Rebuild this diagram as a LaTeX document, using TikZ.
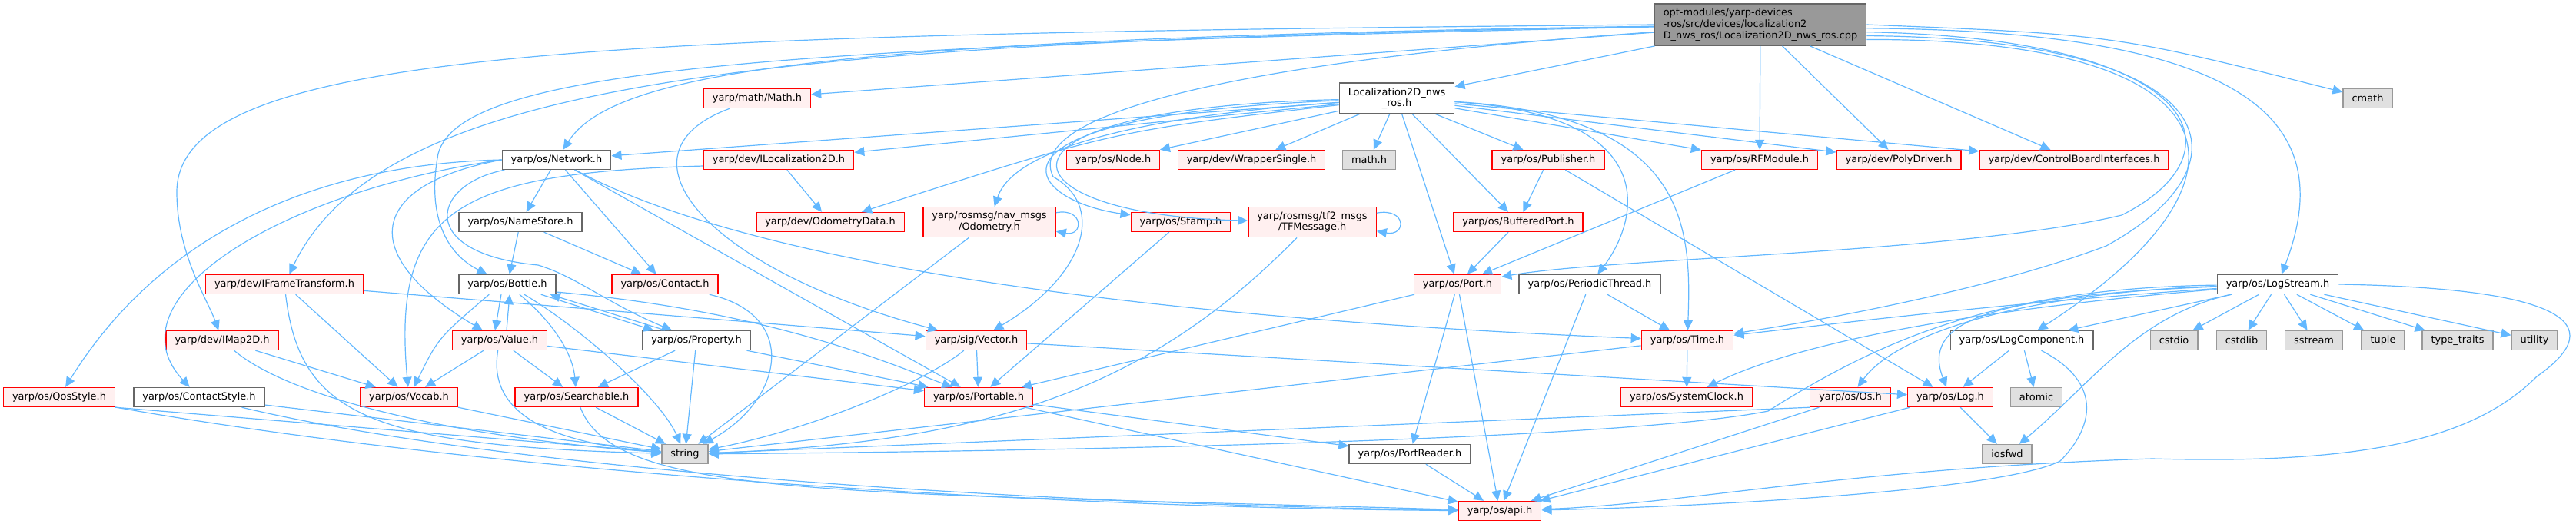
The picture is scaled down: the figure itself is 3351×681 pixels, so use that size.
\documentclass[tikz,border=0pt]{standalone}
\usepackage{fontspec}
\usepackage{tikz}
\usepackage{xcolor}
\usetikzlibrary{arrows.meta}
\newfontfamily\graphfont{DejaVu Sans}
\definecolor{edgeblue}{HTML}{63B8FF}
\definecolor{docline}{HTML}{FF0000}
\definecolor{docfill}{HTML}{FFF0F0}
\definecolor{sysline}{HTML}{999999}
\definecolor{sysfill}{HTML}{E0E0E0}
\definecolor{plainline}{HTML}{666666}
\definecolor{rootfill}{HTML}{999999}

\begin{document}
\begin{tikzpicture}[x=0.01cm, y=-0.01cm,
        >={Triangle[length=0.13cm, width=0.12cm]},
        hfile/.style={draw, rectangle, line width=0.4pt, align=center,
            font=\graphfont\fontsize{3.67}{4.2}\selectfont,
            inner xsep=0.115cm, inner ysep=0.06cm, minimum height=0.25cm},
        docf/.style={hfile, draw=docline, fill=docfill},
        sysf/.style={hfile, draw=sysline, fill=sysfill},
        plainf/.style={hfile, draw=plainline, fill=white},
        rootf/.style={hfile, draw=plainline, fill=rootfill, align=left},
        dep/.style={->, draw=edgeblue, line width=0.34pt}]
        \useasboundingbox (0,0) rectangle (3351,681);

        \node (cpp) at (2290,32) [rootf] {opt-modules/yarp-devices\\-ros/src/devices/localization2\\D\_nws\_ros/Localization2D\_nws\_ros.cpp};
        \node (nws) at (1817,128) [plainf] {Localization2D\_nws\\\_ros.h};
        \node (mathm) at (985,128) [docf] {yarp/math/Math.h};
        \node (cmath) at (3080,128) [sysf] {cmath};
        \node (net) at (724,208) [plainf] {yarp/os/Network.h};
        \node (iloc) at (1013,208) [docf] {yarp/dev/ILocalization2D.h};
        \node (nodeh) at (1448,208) [docf] {yarp/os/Node.h};
        \node (wrap) at (1628,208) [docf] {yarp/dev/WrapperSingle.h};
        \node (mathh) at (1781,208) [sysf] {math.h};
        \node (pub) at (2014,208) [docf] {yarp/os/Publisher.h};
        \node (rfm) at (2289,208) [docf] {yarp/os/RFModule.h};
        \node (poly) at (2470,208) [docf] {yarp/dev/PolyDriver.h};
        \node (cbi) at (2698,208) [docf] {yarp/dev/ControlBoardInterfaces.h};
        \node (names) at (677,289) [plainf] {yarp/os/NameStore.h};
        \node (odata) at (1080,289) [docf] {yarp/dev/OdometryData.h};
        \node (odom) at (1287,289) [docf] {yarp/rosmsg/nav\_msgs\\/Odometry.h};
        \node (stamp) at (1536,289) [docf] {yarp/os/Stamp.h};
        \node (tfm) at (1707,289) [docf] {yarp/rosmsg/tf2\_msgs\\/TFMessage.h};
        \node (bport) at (1975,289) [docf] {yarp/os/BufferedPort.h};
        \node (iframe) at (370,370) [docf] {yarp/dev/IFrameTransform.h};
        \node (bottle) at (660,370) [plainf] {yarp/os/Bottle.h};
        \node (contact) at (865,370) [docf] {yarp/os/Contact.h};
        \node (port) at (1896,370) [docf] {yarp/os/Port.h};
        \node (pthread) at (2068,370) [plainf] {yarp/os/PeriodicThread.h};
        \node (lstream) at (2963,370) [plainf] {yarp/os/LogStream.h};
        \node (imap) at (289,443) [docf] {yarp/dev/IMap2D.h};
        \node (value) at (650,443) [docf] {yarp/os/Value.h};
        \node (prop) at (906,443) [plainf] {yarp/os/Property.h};
        \node (vec) at (1270,443) [docf] {yarp/sig/Vector.h};
        \node (time) at (2195,443) [docf] {yarp/os/Time.h};
        \node (lcomp) at (2630,443) [plainf] {yarp/os/LogComponent.h};
        \node (cstdio) at (2828,443) [sysf] {cstdio};
        \node (cstdlib) at (2916,443) [sysf] {cstdlib};
        \node (sstream) at (3010,443) [sysf] {sstream};
        \node (tuple) at (3100,443) [sysf] {tuple};
        \node (ttraits) at (3197,443) [sysf] {type\_traits};
        \node (utility) at (3297,443) [sysf] {utility};
        \node (qos) at (77,517) [docf] {yarp/os/QosStyle.h};
        \node (cstyle) at (259,517) [plainf] {yarp/os/ContactStyle.h};
        \node (vocab) at (532,517) [docf] {yarp/os/Vocab.h};
        \node (search) at (750,517) [docf] {yarp/os/Searchable.h};
        \node (portable) at (1273,517) [docf] {yarp/os/Portable.h};
        \node (sclock) at (2194,517) [docf] {yarp/os/SystemClock.h};
        \node (os) at (2407,517) [docf] {yarp/os/Os.h};
        \node (log) at (2537,517) [docf] {yarp/os/Log.h};
        \node (atomic) at (2649,517) [sysf] {atomic};
        \node (string) at (891,591) [sysf] {string};
        \node (preader) at (1834,591) [plainf] {yarp/os/PortReader.h};
        \node (iosfwd) at (2611,591) [sysf] {iosfwd};
        \node (api) at (1951,665) [docf] {yarp/os/api.h};

        \draw[dep] (cpp) -- (nws);
        \draw[dep] (cpp) -- (mathm);
        \draw[dep] (cpp) .. controls (1100,50) and (800,90) .. (net);
        \draw[dep] (cpp) .. controls (1000,55) and (500,100) .. (iframe);
        \draw[dep] (cpp.west) .. controls (800,45) and (230,60) .. (230,250) .. controls (230,330) and (270,390) .. (imap);
        \draw[dep] (cpp) .. controls (1000,60) and (600,90) .. (570,200) .. controls (555,280) and (580,330) .. (bottle);
        \draw[dep] (cpp) .. controls (1600,80) and (1330,150) .. (1370,230) .. controls (1440,270) and (1410,360) .. (vec);
        \draw[dep] (cpp) -- (rfm);
        \draw[dep] (cpp) -- (poly);
        \draw[dep] (cpp) -- (cbi);
        \draw[dep] (cpp.east) .. controls (2750,45) .. (cmath);
        \draw[dep] (cpp.-2) .. controls (2950,40) and (3040,170) .. (lstream);
        \draw[dep] (cpp.-4) .. controls (2870,50) and (2920,200) .. (2760,280) .. controls (2550,330) and (2100,335) .. (port);
        \draw[dep] (cpp.-6) .. controls (2890,50) and (2940,210) .. (2740,320) .. controls (2580,380) and (2350,420) .. (time);
        \draw[dep] (cpp.-8) .. controls (2910,50) and (2960,230) .. (lcomp);

        \draw[dep] (nws) -- (net);
        \draw[dep] (nws) -- (iloc);
        \draw[dep] (nws) .. controls (1450,170) .. (odata);
        \draw[dep] (nws) -- (nodeh);
        \draw[dep] (nws) -- (wrap);
        \draw[dep] (nws) -- (mathh);
        \draw[dep] (nws) -- (pub);
        \draw[dep] (nws) -- (bport);
        \draw[dep] (nws) -- (port);
        \draw[dep] (nws) -- (rfm);
        \draw[dep] (nws) -- (poly);
        \draw[dep] (nws) -- (cbi);
        \draw[dep] (nws) .. controls (2170,150) and (2130,290) .. (pthread);
        \draw[dep] (nws) .. controls (2200,150) and (2200,300) .. (time);
        \draw[dep] (nws) .. controls (1500,150) and (1320,190) .. (odom);
        \draw[dep] (nws) .. controls (1250,150) and (1330,260) .. (stamp);
        \draw[dep] (nws) .. controls (1250,140) and (1300,280) .. (tfm);

        \draw[dep] (net.west) .. controls (350,215) and (180,350) .. (qos);
        \draw[dep] (net.west) .. controls (360,250) and (140,390) .. (cstyle);
        \draw[dep] (net.west) .. controls (480,240) and (460,330) .. (value);
        \draw[dep] (net) -- (names);
        \draw[dep] (net) -- (contact);
        \draw[dep] (net) .. controls (560,240) and (540,330) .. (700,345) .. controls (750,360) and (790,395) .. (prop);
        \draw[dep] (net) -- (portable);
        \draw[dep] (net) .. controls (950,330) and (1400,410) .. (time);

        \draw[dep] ([xshift=-0.08cm]bottle.south) -- ([xshift=-0.06cm]value.north);
        \draw[dep] ([xshift=0.09cm]value.north) -- ([xshift=0.03cm]bottle.south);
        \draw[dep] ([xshift=-0.2cm]bottle.south east) -- ([xshift=0.15cm]prop.north west);
        \draw[dep] ([xshift=0.3cm]prop.north west) -- ([xshift=-0.08cm]bottle.south east);
        \draw[dep] (bottle) .. controls (720,420) and (745,460) .. (search);
        \draw[dep] (bottle) .. controls (760,430) and (860,520) .. (string);
        \draw[dep] ([xshift=0.4cm]bottle.south west) .. controls (570,440) .. (vocab);
        \draw[dep] ([yshift=-0.1cm]bottle.east) .. controls (1000,405) and (1150,470) .. (portable);

        \draw[dep] (value) -- (vocab);
        \draw[dep] (value) -- (search);
        \draw[dep] (value) .. controls (635,530) and (700,575) .. (string);
        \draw[dep] (value) -- (portable);
        \draw[dep] (prop) -- (search);
        \draw[dep] (prop) -- (string);
        \draw[dep] (prop) -- (portable);
        \draw[dep] (names) -- (bottle);
        \draw[dep] (names) -- (contact);
        \draw[dep] (contact) .. controls (1040,410) and (1020,520) .. (string);
        \draw[dep] (search) -- (string);
        \draw[dep] (search) .. controls (800,650) and (1100,640) .. (api);
        \draw[dep] (vocab) -- (string);
        \draw[dep] (imap) -- (vocab);
        \draw[dep] (imap) .. controls (380,520) and (600,570) .. (string);
        \draw[dep] (iframe) -- (vocab);
        \draw[dep] (iframe) .. controls (390,540) and (480,580) .. (string);
        \draw[dep] (iframe) -- (vec);
        \draw[dep] (qos.south east) -- (string);
        \draw[dep] (qos) .. controls (600,610) and (1300,660) .. (api);
        \draw[dep] (cstyle) -- (string);
        \draw[dep] (cstyle) .. controls (650,610) and (1300,655) .. (api);
        \draw[dep] (mathm) .. controls (790,200) and (920,350) .. (vec);
        \draw[dep] (iloc) -- (odata);
        \draw[dep] ([yshift=-0.08cm]iloc.west) .. controls (590,225) and (510,275) .. (vocab);

        \draw[dep] (odom) -- (string);
        \draw[dep] (odom.8) .. controls (1410,270) and (1410,308) .. (odom.-8);
        \draw[dep] (tfm) .. controls (1500,500) and (1300,575) .. (string);
        \draw[dep] (tfm.8) .. controls (1830,270) and (1830,308) .. (tfm.-8);
        \draw[dep] (stamp) -- (portable);
        \draw[dep] (vec) -- (portable);
        \draw[dep] (vec) .. controls (1200,500) and (1050,560) .. (string);
        \draw[dep] (vec) -- (log);
        \draw[dep] (portable) -- (preader);
        \draw[dep] (portable) -- (api);
        \draw[dep] (pub) -- (bport);
        \draw[dep] (pub) -- (log);
        \draw[dep] (bport) -- (port);
        \draw[dep] (rfm) -- (port);
        \draw[dep] (port) -- (portable);
        \draw[dep] (port) -- (preader);
        \draw[dep] (port) -- (api);
        \draw[dep] (pthread) -- (time);
        \draw[dep] (pthread) -- (api);
        \draw[dep] (preader) -- (api);
        \draw[dep] (time) -- (sclock);
        \draw[dep] (time) -- (string);
        \draw[dep] (os.south west) -- (string);
        \draw[dep] (os) -- (api);
        \draw[dep] (log) -- (iosfwd);
        \draw[dep] (log) -- (api);
        \draw[dep] (lcomp) -- (log);
        \draw[dep] (lcomp) -- (atomic);
        \draw[dep] (lcomp) .. controls (2740,500) and (2720,560) .. (2680,600) .. controls (2600,640) and (2200,660) .. (api);

        \draw[dep] (lstream) -- (cstdio);
        \draw[dep] (lstream) -- (cstdlib);
        \draw[dep] (lstream) -- (sstream);
        \draw[dep] (lstream) -- (tuple);
        \draw[dep] (lstream) -- (ttraits);
        \draw[dep] (lstream) -- (utility);
        \draw[dep] (lstream) -- (lcomp);
        \draw[dep] (lstream) .. controls (2600,395) and (2400,420) .. (time);
        \draw[dep] (lstream) .. controls (2600,400) and (2350,440) .. (sclock);
        \draw[dep] (lstream) .. controls (2650,380) and (2470,430) .. (os);
        \draw[dep] (lstream) .. controls (2580,385) and (2500,420) .. (log);
        \draw[dep] (lstream) .. controls (2600,375) and (2450,440) .. (2300,535) .. controls (2100,575) and (1300,588) .. (string);
        \draw[dep] (lstream) .. controls (2780,410) and (2720,500) .. (iosfwd);
        \draw[dep] (lstream.east) .. controls (3330,375) and (3400,420) .. (3300,490) .. controls (3220,570) and (3080,605) .. (2800,597) .. controls (2400,610) and (2200,655) .. (api);
    \end{tikzpicture}
\end{document}
